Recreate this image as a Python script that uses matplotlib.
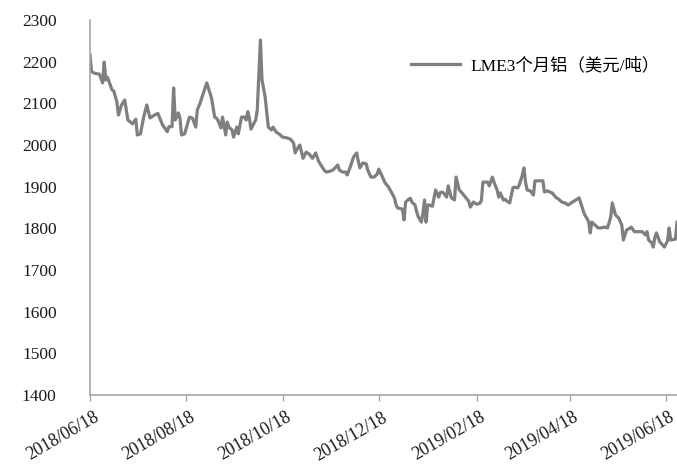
import numpy as np
import matplotlib
matplotlib.use("Agg")
import matplotlib.pyplot as plt
import matplotlib.dates as mdates
import matplotlib.transforms as mtransforms

# LME 3-month aluminium price, USD/t; x given as calendar days since start_date
start_date = np.datetime64("2018-06-18")
day_offsets = [
    0, 1, 3, 6, 8, 9, 10, 11, 14, 15, 17, 18, 20, 22, 24, 27, 29, 30, 32, 34,
    36, 38, 41, 43, 46, 49, 50, 52, 53, 54, 56, 57, 58, 60, 63, 65, 67, 68, 70, 71,
    74, 75, 77, 79, 80, 81, 83, 84, 86, 87, 88, 90, 91, 93, 94, 96, 98, 99, 100, 101,
    102, 105, 106, 108, 109, 111, 113, 115, 116, 118, 120, 122, 125, 127, 129, 130, 132, 133, 135, 137,
    139, 141, 143, 145, 148, 149, 150, 152, 154, 157, 158, 160, 162, 163, 165, 167, 169, 170, 171, 173,
    175, 176, 178, 180, 182, 183, 185, 187, 189, 191, 193, 194, 195, 198, 199, 200, 202, 203, 204, 206,
    207, 208, 210, 211, 212, 213, 214, 215, 217, 218, 219, 221, 222, 223, 224, 226, 227, 228, 229, 231,
    232, 233, 234, 236, 239, 240, 241, 243, 245, 247, 248, 249, 252, 253, 255, 256, 258, 259, 260, 262,
    263, 264, 266, 268, 269, 271, 272, 274, 275, 276, 277, 279, 281, 282, 284, 287, 288, 290, 292, 293,
    295, 297, 299, 301, 303, 305, 307, 310, 312, 313, 316, 317, 318, 320, 322, 324, 326, 328, 330, 331,
    333, 335, 337, 338, 340, 342, 343, 345, 347, 350, 352, 353, 354, 356, 357, 358, 359, 361, 364, 366,
    367, 368, 371, 372,
]
price = [
    2216, 2176, 2172, 2170, 2149, 2199, 2156, 2163, 2132, 2130, 2104, 2072, 2096, 2108, 2060, 2051, 2062, 2024, 2027, 2067,
    2096, 2065, 2072, 2076, 2048, 2032, 2044, 2044, 2137, 2060, 2077, 2065, 2024, 2027, 2067, 2064, 2043, 2084, 2103, 2115,
    2149, 2137, 2113, 2067, 2065, 2060, 2041, 2067, 2024, 2055, 2043, 2036, 2019, 2043, 2027, 2067, 2067, 2060, 2080, 2065,
    2038, 2060, 2084, 2252, 2156, 2115, 2043, 2036, 2043, 2031, 2026, 2019, 2017, 2014, 2005, 1981, 1995, 2000, 1968, 1983,
    1978, 1968, 1981, 1960, 1942, 1937, 1935, 1937, 1940, 1952, 1940, 1935, 1935, 1928, 1948, 1971, 1981, 1962, 1945, 1957,
    1955, 1940, 1923, 1923, 1930, 1942, 1926, 1909, 1900, 1887, 1872, 1856, 1849, 1846, 1820, 1863, 1870, 1872, 1863, 1856,
    1840, 1828, 1815, 1836, 1868, 1815, 1856, 1856, 1853, 1872, 1892, 1875, 1886, 1887, 1885, 1875, 1902, 1887, 1873, 1868,
    1923, 1908, 1892, 1884, 1870, 1865, 1851, 1863, 1858, 1860, 1866, 1911, 1911, 1902, 1923, 1911, 1892, 1875, 1885, 1868,
    1870, 1866, 1861, 1897, 1899, 1897, 1904, 1928, 1945, 1911, 1892, 1890, 1880, 1914, 1914, 1914, 1887, 1890, 1886, 1885,
    1875, 1870, 1863, 1861, 1856, 1861, 1866, 1873, 1849, 1837, 1816, 1789, 1815, 1808, 1801, 1801, 1803, 1801, 1827, 1861,
    1832, 1825, 1808, 1772, 1796, 1800, 1803, 1792, 1792, 1792, 1784, 1792, 1772, 1765, 1755, 1779, 1789, 1768, 1755, 1770,
    1801, 1772, 1774, 1815,
]
x_end_offset = 372
tick_dates = ["2018-06-18", "2018-08-18", "2018-10-18", "2018-12-18",
              "2019-02-18", "2019-04-18", "2019-06-18"]
y_ticks = [1400, 1500, 1600, 1700, 1800, 1900, 2000, 2100, 2200, 2300]
series_label = "LME3个月铝（美元/吨）"

serif = ["Liberation Serif", "Noto Sans CJK SC", "DejaVu Serif"]
plt.rcParams["font.family"] = serif

dates = start_date + np.array(day_offsets, dtype="timedelta64[D]")

fig = plt.figure(figsize=(6.77, 4.65), dpi=100)
ax = fig.add_axes([90 / 677, 1 - 395 / 465, 1 - 90 / 677, (395 - 20) / 465])

line_color = "#7f7f7f"
ax.plot(dates, price, color=line_color, lw=2.3, solid_joinstyle="round",
        label=series_label)

ax.set_ylim(1400, 2300)
ax.set_yticks(y_ticks)
ax.set_xlim(start_date, start_date + np.timedelta64(x_end_offset, "D"))
ax.set_xticks([np.datetime64(d) for d in tick_dates])
ax.xaxis.set_major_formatter(mdates.DateFormatter("%Y/%m/%d"))

for side in ("top", "right"):
    ax.spines[side].set_visible(False)
for side in ("left", "bottom"):
    ax.spines[side].set_color("#a6a6a6")
    ax.spines[side].set_linewidth(1.2)

ax.tick_params(axis="y", length=0, pad=24, labelsize=12.5, labelcolor="#1a1a1a")
ax.tick_params(axis="x", length=4, width=1.0, color="#a6a6a6", pad=6,
               labelsize=12.8, labelcolor="#1a1a1a")
shift = mtransforms.ScaledTranslation(3 / 100, 0, fig.dpi_scale_trans)
for lbl in ax.get_xticklabels():
    lbl.set_rotation(30)
    lbl.set_ha("right")
    lbl.set_va("top")
    lbl.set_rotation_mode("anchor")
    lbl.set_transform(lbl.get_transform() + shift)

leg = ax.legend(loc="center left", bbox_to_anchor=(411 / 677, 1 - 66 / 465),
                bbox_transform=fig.transFigure, frameon=False,
                handlelength=2.8, handletextpad=0.6, borderpad=0,
                borderaxespad=0, prop={"family": serif, "size": 12.5})

fig.savefig("out.png", dpi=100)
